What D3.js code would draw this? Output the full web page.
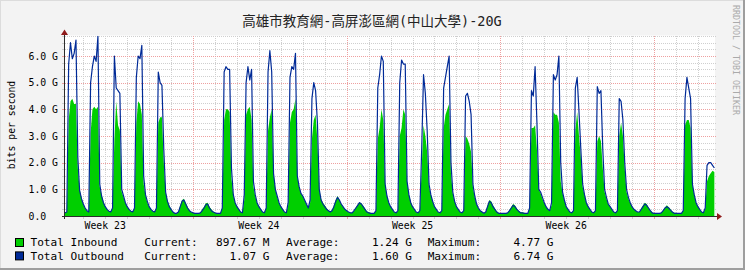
<!DOCTYPE html>
<html>
<head>
<meta charset="utf-8">
<script src="https://cdn.jsdelivr.net/npm/d3@7"></script>
<style>
  body { margin: 0; background: #f3f3f3; }
  svg { display: block; }
  text { font-family: "DejaVu Sans Mono", monospace; fill: #000; }
</style>
</head>
<body>
<svg width="745" height="270"></svg>
<script>
// texts
const title = "高雄市教育網-高屏澎區網(中山大學)-20G";
const yAxisLabel = "bits per second";
const watermark = "RRDTOOL / TOBI OETIKER";
const weekLabels = ["Week 23", "Week 24", "Week 25", "Week 26"];
const yTicks = [0, 1, 2, 3, 4, 5, 6];

// legend
const seriesNames = ["Total Inbound", "Total Outbound"];
const seriesColors = ["#00CF00", "#002A97"];
const currentText = ["897.67 M", "1.07 G"];
const averageText = ["1.24 G", "1.60 G"];
const maximumText = ["4.77 G", "6.74 G"];

// samples every 2 hours from 2024-06-03 00:00 (UTC), in Gbit/s, one row per day
const inbound = [
  0.3, 0.2, 0.12, 0.15, 3.6, 4.3, 4.4, 4.2, 4.2, 1.8, 1.0, 0.7,
  0.45, 0.3, 0.2, 0.15, 3.1, 4.0, 4.1, 4.0, 4.1, 1.1, 0.8, 0.55,
  0.35, 0.25, 0.18, 0.15, 0.3, 2.9, 4.3, 3.4, 3.2, 0.9, 0.7, 0.5,
  0.35, 0.25, 0.18, 0.15, 0.3, 3.5, 4.3, 4.2, 3.8, 1.2, 0.8, 0.5,
  0.35, 0.25, 0.18, 0.15, 0.3, 3.5, 3.7, 3.7, 2.0, 0.9, 0.6, 0.4,
  0.25, 0.15, 0.1, 0.1, 0.15, 0.4, 0.6, 0.65, 0.5, 0.35, 0.22, 0.15,
  0.12, 0.1, 0.1, 0.1, 0.12, 0.25, 0.35, 0.48, 0.5, 0.35, 0.25, 0.18,
  0.12, 0.1, 0.1, 0.1, 0.3, 3.6, 4.0, 4.0, 3.9, 1.4, 0.8, 0.5,
  0.35, 0.25, 0.15, 0.12, 0.6, 3.8, 4.0, 4.1, 3.6, 1.1, 0.75, 0.5,
  0.35, 0.25, 0.15, 0.12, 0.3, 3.2, 3.7, 4.0, 1.6, 1.0, 0.7, 0.5,
  0.35, 0.25, 0.15, 0.12, 0.4, 3.5, 3.9, 4.0, 4.4, 1.5, 1.1, 0.85,
  0.75, 0.6, 0.45, 0.3, 0.5, 2.9, 3.6, 3.8, 2.8, 1.0, 0.65, 0.5,
  0.4, 0.3, 0.22, 0.18, 0.22, 0.4, 0.6, 0.75, 0.6, 0.45, 0.35, 0.25,
  0.2, 0.15, 0.12, 0.12, 0.2, 0.32, 0.42, 0.52, 0.48, 0.38, 0.28, 0.18,
  0.15, 0.12, 0.1, 0.1, 0.2, 2.9, 3.3, 4.0, 3.6, 1.2, 0.75, 0.5,
  0.35, 0.25, 0.15, 0.12, 0.2, 3.0, 3.3, 4.0, 3.8, 1.3, 0.8, 0.55,
  0.35, 0.25, 0.15, 0.12, 0.2, 1.8, 3.4, 3.0, 2.4, 1.1, 0.8, 0.55,
  0.35, 0.25, 0.15, 0.12, 0.2, 3.3, 3.8, 4.0, 4.2, 1.6, 0.85, 0.55,
  0.35, 0.25, 0.15, 0.12, 0.2, 3.0, 2.9, 2.7, 2.4, 1.1, 0.7, 0.45,
  0.3, 0.2, 0.15, 0.1, 0.15, 0.4, 0.6, 0.55, 0.4, 0.28, 0.18, 0.12,
  0.1, 0.1, 0.1, 0.1, 0.12, 0.22, 0.35, 0.45, 0.4, 0.28, 0.2, 0.14,
  0.14, 0.12, 0.1, 0.1, 0.3, 3.3, 3.3, 3.4, 2.5, 1.0, 0.85, 0.65,
  0.5, 0.35, 0.25, 0.2, 0.4, 3.9, 3.8, 3.8, 3.5, 1.3, 0.85, 0.6,
  0.35, 0.25, 0.15, 0.12, 0.2, 3.2, 3.9, 3.0, 2.2, 1.1, 0.8, 0.5,
  0.35, 0.25, 0.15, 0.12, 0.2, 2.8, 3.0, 2.8, 1.8, 0.9, 0.65, 0.45,
  0.35, 0.25, 0.15, 0.12, 0.2, 3.0, 3.5, 3.0, 1.8, 0.9, 0.65, 0.5,
  0.35, 0.25, 0.2, 0.15, 0.15, 0.28, 0.4, 0.5, 0.45, 0.32, 0.22, 0.14,
  0.1, 0.1, 0.1, 0.1, 0.12, 0.22, 0.32, 0.4, 0.34, 0.25, 0.17, 0.12,
  0.12, 0.1, 0.1, 0.1, 0.2, 3.4, 3.6, 3.6, 3.3, 1.2, 0.8, 0.5,
  0.35, 0.25, 0.15, 0.12, 0.25, 1.3, 1.5, 1.6, 1.7, 1.65
];
const outbound = [
  0.3, 0.2, 0.12, 0.15, 5.7, 6.5, 5.9, 6.1, 6.6, 2.2, 0.95, 0.65,
  0.45, 0.3, 0.2, 0.15, 5.0, 5.6, 6.0, 5.8, 6.74, 1.2, 0.75, 0.5,
  0.35, 0.25, 0.18, 0.15, 0.3, 6.0, 4.8, 4.7, 4.6, 1.0, 0.75, 0.5,
  0.35, 0.25, 0.18, 0.15, 0.3, 5.2, 6.0, 5.9, 6.4, 1.5, 0.8, 0.55,
  0.35, 0.25, 0.18, 0.15, 0.3, 5.4, 5.0, 4.9, 2.5, 0.9, 0.55, 0.35,
  0.25, 0.15, 0.1, 0.1, 0.15, 0.35, 0.55, 0.6, 0.45, 0.3, 0.2, 0.15,
  0.12, 0.1, 0.1, 0.1, 0.12, 0.2, 0.3, 0.42, 0.45, 0.3, 0.2, 0.15,
  0.12, 0.1, 0.1, 0.1, 0.3, 5.4, 5.6, 5.5, 5.5, 1.8, 0.8, 0.5,
  0.35, 0.25, 0.15, 0.12, 0.8, 5.0, 5.6, 5.1, 5.5, 1.3, 0.8, 0.5,
  0.35, 0.25, 0.15, 0.12, 0.3, 5.4, 6.2, 5.4, 1.6, 1.0, 0.75, 0.5,
  0.35, 0.25, 0.15, 0.12, 0.5, 5.2, 5.6, 5.5, 6.1, 1.5, 1.1, 0.85,
  0.75, 0.6, 0.45, 0.3, 0.6, 4.4, 5.0, 4.7, 3.5, 1.0, 0.6, 0.45,
  0.35, 0.25, 0.2, 0.15, 0.2, 0.35, 0.55, 0.7, 0.6, 0.45, 0.35, 0.25,
  0.2, 0.15, 0.12, 0.12, 0.2, 0.3, 0.4, 0.5, 0.45, 0.35, 0.25, 0.15,
  0.12, 0.1, 0.1, 0.1, 0.2, 4.8, 5.3, 6.0, 5.8, 1.2, 0.75, 0.5,
  0.35, 0.25, 0.15, 0.12, 0.2, 5.0, 5.85, 5.7, 5.7, 1.3, 0.8, 0.5,
  0.35, 0.25, 0.15, 0.12, 0.2, 2.5, 5.3, 4.6, 3.2, 1.2, 0.8, 0.55,
  0.35, 0.25, 0.15, 0.12, 0.2, 4.8, 5.2, 5.6, 6.0, 2.0, 0.9, 0.55,
  0.35, 0.25, 0.15, 0.12, 0.2, 4.5, 4.6, 4.3, 3.8, 1.2, 0.75, 0.45,
  0.3, 0.2, 0.15, 0.1, 0.15, 0.35, 0.55, 0.5, 0.35, 0.25, 0.15, 0.1,
  0.1, 0.1, 0.1, 0.1, 0.12, 0.2, 0.3, 0.4, 0.35, 0.25, 0.18, 0.12,
  0.12, 0.1, 0.1, 0.1, 0.3, 4.7, 4.5, 5.6, 3.5, 1.0, 0.9, 0.7,
  0.5, 0.35, 0.25, 0.2, 0.5, 5.3, 5.1, 5.3, 6.0, 2.0, 0.9, 0.6,
  0.35, 0.25, 0.15, 0.12, 0.2, 4.8, 5.2, 3.9, 2.5, 1.2, 0.8, 0.5,
  0.35, 0.25, 0.15, 0.12, 0.2, 4.85, 4.6, 4.7, 2.5, 1.0, 0.7, 0.45,
  0.35, 0.25, 0.15, 0.12, 0.2, 4.4, 4.3, 3.6, 2.0, 1.0, 0.7, 0.5,
  0.35, 0.25, 0.2, 0.15, 0.15, 0.25, 0.35, 0.45, 0.4, 0.3, 0.2, 0.12,
  0.1, 0.1, 0.1, 0.1, 0.12, 0.2, 0.3, 0.35, 0.3, 0.22, 0.15, 0.1,
  0.1, 0.1, 0.1, 0.1, 0.2, 4.4, 5.2, 4.8, 4.4, 1.2, 0.8, 0.5,
  0.35, 0.25, 0.15, 0.12, 0.3, 1.9, 2.0, 2.0, 1.9, 1.8
];

const sampleStart = Date.UTC(2024, 5, 3, 0);
const stepMs = 2 * 3600 * 1000;
const viewStart = new Date(Date.UTC(2024, 5, 3, 4));
const viewEnd = new Date(viewStart.getTime() + 710.7 * 3600 * 1000);

const svg = d3.select("svg");
const W = 745, H = 270;
const plot = { left: 65, right: 715, top: 35.5, bottom: 216 };

const x = d3.scaleTime().domain([viewStart, viewEnd]).range([plot.left, plot.right]);
const y = d3.scaleLinear().domain([0, 6.77]).range([plot.bottom, plot.top]);

const rows = inbound.map((v, i) => ({
  t: new Date(sampleStart + i * stepMs),
  inb: v,
  out: outbound[i]
}));

// background + frame
svg.append("rect").attr("width", W).attr("height", H).attr("fill", "#f3f3f3");
svg.append("rect").attr("x", 0).attr("y", 0).attr("width", W).attr("height", 1).attr("fill", "#dcdcdc");
svg.append("rect").attr("x", 0).attr("y", 0).attr("width", 1).attr("height", H).attr("fill", "#dcdcdc");
svg.append("rect").attr("x", W - 2).attr("y", 0).attr("width", 2).attr("height", H).attr("fill", "#9e9e9e");
svg.append("rect").attr("x", 0).attr("y", H - 2).attr("width", W).attr("height", 2).attr("fill", "#9e9e9e");

// canvas
svg.append("rect")
  .attr("x", plot.left).attr("y", plot.top)
  .attr("width", plot.right - plot.left).attr("height", plot.bottom - plot.top)
  .attr("fill", "#fff");

svg.append("clipPath").attr("id", "clip")
  .append("rect")
  .attr("x", plot.left).attr("y", plot.top)
  .attr("width", plot.right - plot.left).attr("height", plot.bottom - plot.top + 1);

// grid
const grid = svg.append("g").attr("shape-rendering", "crispEdges");
const minorColor = "#cfcfcf", majorColor = "#eea0a0";

const minorY = d3.range(0.25, 6.77, 0.25).filter(v => v % 1 !== 0);
const majorY = yTicks.filter(v => v > 0);
const weeks = d3.utcSunday.range(viewStart, viewEnd);
const days = d3.utcDay.range(viewStart, viewEnd).filter(d => d.getUTCDay() !== 0);

function hline(v, color) {
  const yy = Math.round(y(v)) + 0.5;
  grid.append("line").attr("x1", plot.left).attr("x2", plot.right + 2)
    .attr("y1", yy).attr("y2", yy)
    .attr("stroke", color).attr("stroke-dasharray", "1,1");
  grid.append("line").attr("x1", plot.left - 3).attr("x2", plot.left)
    .attr("y1", yy).attr("y2", yy).attr("stroke", color);
}
function vline(d, color) {
  const xx = Math.round(x(d)) + 0.5;
  grid.append("line").attr("x1", xx).attr("x2", xx)
    .attr("y1", plot.top).attr("y2", plot.bottom)
    .attr("stroke", color).attr("stroke-dasharray", "1,1");
  grid.append("line").attr("x1", xx).attr("x2", xx)
    .attr("y1", plot.bottom + 1).attr("y2", plot.bottom + 3).attr("stroke", color);
}
minorY.forEach(v => hline(v, minorColor));
days.forEach(d => vline(d, minorColor));
majorY.forEach(v => hline(v, majorColor));
weeks.forEach(d => vline(d, majorColor));

// data
const g = svg.append("g").attr("clip-path", "url(#clip)");
g.append("path")
  .datum(rows)
  .attr("fill", seriesColors[0])
  .attr("d", d3.area().x(d => x(d.t)).y0(y(0)).y1(d => y(d.inb)));
g.append("path")
  .datum(rows)
  .attr("fill", "none")
  .attr("stroke", seriesColors[1])
  .attr("stroke-width", 1.2)
  .attr("stroke-linejoin", "round")
  .attr("d", d3.line().x(d => x(d.t)).y(d => y(d.out)));

// axes
const axis = svg.append("g").attr("shape-rendering", "crispEdges");
axis.append("line").attr("x1", plot.left - 3).attr("x2", plot.right + 3)
  .attr("y1", plot.bottom + 0.5).attr("y2", plot.bottom + 0.5).attr("stroke", "#2c2c2c");
axis.append("line").attr("x1", plot.left - 0.5).attr("x2", plot.left - 0.5)
  .attr("y1", plot.bottom + 3).attr("y2", plot.top - 1).attr("stroke", "#2c2c2c");
svg.append("path").attr("fill", "#8f1a1a")
  .attr("d", `M${plot.left - 0.5},29.5 L${plot.left - 4},35 L${plot.left + 3},35 Z`);
svg.append("path").attr("fill", "#8f1a1a")
  .attr("d", `M722,${plot.bottom + 0.5} L717,${plot.bottom - 3} L717,${plot.bottom + 4} Z`);

// y labels
svg.append("g").selectAll("text")
  .data(yTicks)
  .join("text")
  .attr("x", 28.5)
  .attr("y", d => y(d) + 3.5)
  .attr("font-size", 9.8)
  .attr("xml:space", "preserve")
  .text(d => d === 0 ? "0.0" : d.toFixed(1) + " G");

// week labels
svg.append("g").selectAll("text")
  .data(weekLabels)
  .join("text")
  .attr("x", (d, i) => x(d3.utcDay.offset(d3.utcSunday.offset(d3.utcSunday.floor(viewStart), i), 3.5)))
  .attr("y", 229)
  .attr("font-size", 9.8)
  .attr("text-anchor", "middle")
  .text(d => d);

svg.append("text")
  .attr("transform", "translate(14.5,125) rotate(-90)")
  .attr("text-anchor", "middle")
  .attr("font-size", 9.8)
  .text(yAxisLabel);

svg.append("text")
  .attr("x", 372).attr("y", 26)
  .attr("text-anchor", "middle")
  .attr("font-size", 13.5)
  .style("font-family", "'DejaVu Sans Mono', 'Noto Sans CJK TC', monospace")
  .style("fill", "#222")
  .text(title);

svg.append("text")
  .attr("transform", "translate(733,5) rotate(90)")
  .attr("font-size", 8.3)
  .style("fill", "#aaaaaa")
  .text(watermark);

// legend
const legend = svg.append("g").attr("font-size", 11.1);
seriesNames.forEach((name, i) => {
  const base = 246.3 + i * 13.4;
  legend.append("rect")
    .attr("x", 15.5).attr("y", base - 7.8).attr("width", 8).attr("height", 8)
    .attr("fill", seriesColors[i]).attr("stroke", "#000").attr("stroke-width", 1);
  legend.append("text").attr("x", 30.5).attr("y", base).text(name);
  legend.append("text").attr("x", 144.3).attr("y", base).text("Current:");
  legend.append("text").attr("x", 269.5).attr("y", base).attr("text-anchor", "end").text(currentText[i]);
  legend.append("text").attr("x", 286).attr("y", base).text("Average:");
  legend.append("text").attr("x", 412).attr("y", base).attr("text-anchor", "end").text(averageText[i]);
  legend.append("text").attr("x", 427.7).attr("y", base).text("Maximum:");
  legend.append("text").attr("x", 553.5).attr("y", base).attr("text-anchor", "end").text(maximumText[i]);
});
</script>
</body>
</html>
